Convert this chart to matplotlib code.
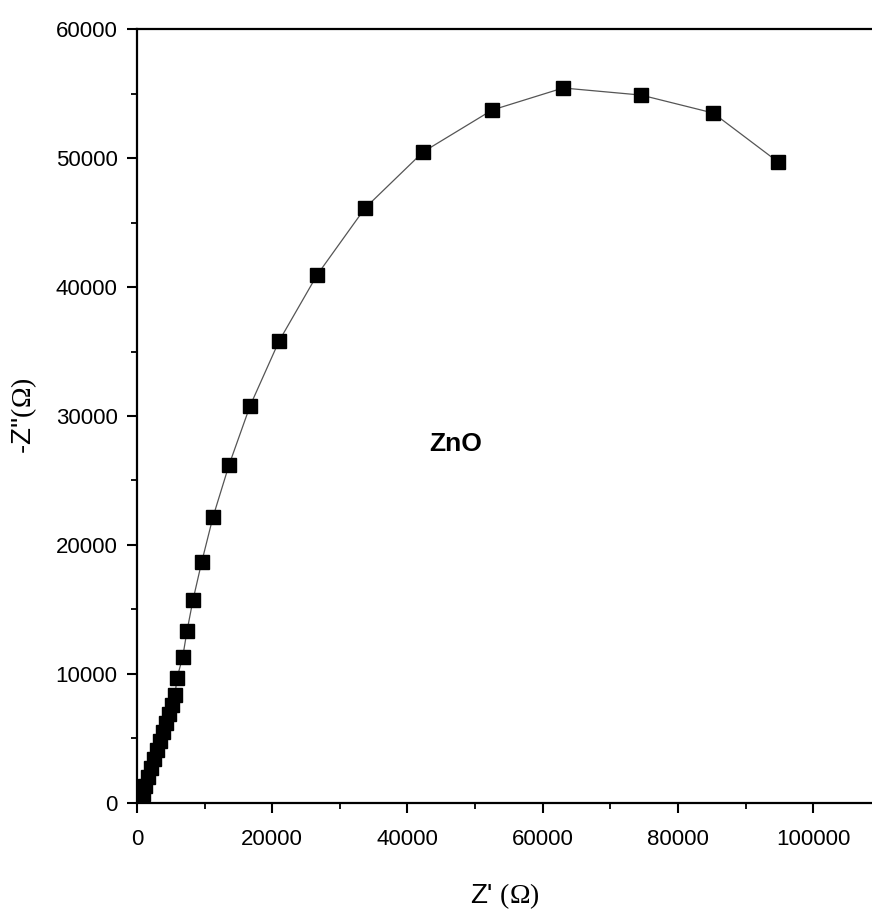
import matplotlib
matplotlib.use("Agg")
import matplotlib.pyplot as plt
from matplotlib.ticker import MultipleLocator

plt.rcParams['font.family'] = ['Liberation Sans', 'DejaVu Sans']
plt.rcParams['mathtext.fontset'] = 'custom'
plt.rcParams['mathtext.rm'] = 'Liberation Serif'

# Nyquist data for ZnO
z_real = [592, 887, 1183, 1627, 2071, 2514, 2958, 3402, 3846, 4290, 4734,
          5177, 5621, 5917, 6760, 7395, 8282, 9570, 11240, 13610, 16720,
          21010, 26630, 33730, 42310, 52520, 63020, 74560, 85210, 94820]
z_imag = [233, 698, 1318, 2015, 2713, 3411, 4108, 4806, 5504, 6202, 6899,
          7597, 8372, 9690, 11320, 13330, 15740, 18680, 22170, 26200, 30780,
          35810, 40930, 46120, 50470, 53720, 55430, 54880, 53490, 49690]

fig = plt.figure(figsize=(8.72, 9.16), dpi=100)
ax = fig.add_axes([0.1571, 0.1234, 0.8429, 0.8449])

ax.plot(z_real, z_imag, color='#555555', linewidth=0.9,
        marker='s', markersize=9.5, markerfacecolor='black',
        markeredgecolor='black', zorder=3)

ax.set_xlim(0, 108700)
ax.set_ylim(0, 60000)
ax.xaxis.set_major_locator(MultipleLocator(20000))
ax.xaxis.set_minor_locator(MultipleLocator(10000))
ax.yaxis.set_major_locator(MultipleLocator(10000))
ax.yaxis.set_minor_locator(MultipleLocator(5000))

ax.spines['right'].set_visible(False)
for s in ['left', 'bottom', 'top']:
    ax.spines[s].set_linewidth(1.6)
ax.tick_params(which='major', direction='out', length=7, width=1.5,
               labelsize=16, pad=7)
ax.tick_params(which='minor', direction='out', length=4, width=1.3)
ax.tick_params(axis='x', pad=12)

ax.set_xlabel("Z' $\\mathrm{(\\Omega)}$", fontsize=20, labelpad=22)
ax.set_ylabel("-Z''$\\mathrm{(\\Omega)}$", fontsize=20, labelpad=12)

ax.text(47200, 27800, 'ZnO', fontsize=19, fontweight='bold', ha='center', va='center')

fig.savefig('out.png', dpi=100)
